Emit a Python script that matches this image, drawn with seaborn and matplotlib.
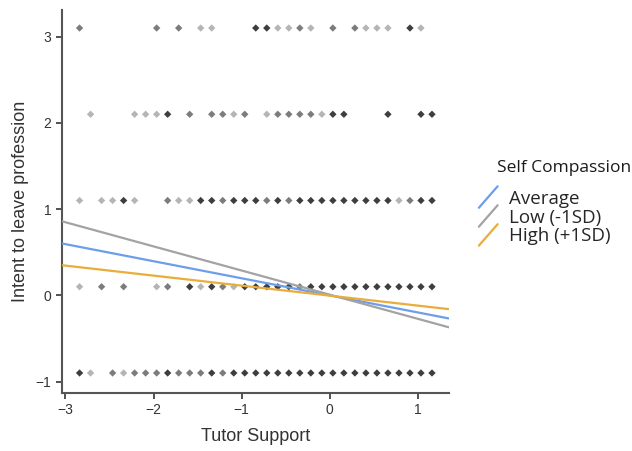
import numpy as np
import pandas as pd
import matplotlib
matplotlib.use("Agg")
import matplotlib.pyplot as plt
from matplotlib.lines import Line2D
import seaborn as sns

# Observed Tutor Support scores (centred) on the x grid
support_levels = [-2.84, -2.715, -2.59, -2.465, -2.34, -2.215, -2.09, -1.965, -1.84,
                  -1.715, -1.59, -1.465, -1.34, -1.215, -1.09, -0.965, -0.84, -0.715,
                  -0.59, -0.465, -0.34, -0.215, -0.09, 0.035, 0.16, 0.285, 0.41,
                  0.535, 0.66, 0.785, 0.91, 1.035, 1.16]

# Intent to leave levels (rows of points)
intent_levels = [3.1, 2.1, 1.1, 0.1, -0.9]

# Overlap density for each support level: 0 = none, 1 = single, 2 = few, 3 = many
overlap_31 = [2, 0, 0, 0, 0, 0, 0, 2, 0, 2, 0, 1, 1, 0, 0, 0, 3, 3, 1, 1, 2, 1, 0, 2, 0, 2, 1, 1, 1, 0, 3, 1, 0]
overlap_21 = [0, 1, 0, 0, 0, 1, 1, 1, 3, 0, 2, 0, 2, 2, 1, 2, 0, 1, 2, 2, 2, 2, 1, 3, 3, 0, 0, 0, 3, 0, 0, 3, 3]
overlap_11 = [1, 0, 1, 1, 3, 1, 0, 0, 2, 1, 1, 3, 3, 2, 3, 3, 3, 2, 3, 2, 3, 3, 3, 3, 3, 3, 3, 3, 3, 1, 2, 3, 3]
overlap_01 = [1, 0, 2, 0, 2, 0, 0, 1, 2, 0, 3, 1, 3, 2, 1, 3, 3, 3, 3, 3, 2, 3, 3, 3, 3, 3, 3, 3, 3, 3, 3, 3, 3]
overlap_m09 = [3, 1, 0, 2, 1, 2, 2, 2, 3, 2, 2, 2, 3, 2, 3, 3, 3, 3, 3, 3, 3, 3, 3, 3, 3, 3, 3, 3, 3, 3, 3, 3, 3]

# Simple slopes of the moderation model
moderator_labels = ["Average", "Low (-1SD)", "High (+1SD)"]
slopes = [-0.198, -0.280, -0.116]
intercepts = [0.0, 0.008, -0.003]
line_colors = ["#6d9eeb", "#a3a3a3", "#e9ad3c"]
x_range = [-3.04, 1.35]

shade_colors = {1: "#b5b5b5", 2: "#7c7c7c", 3: "#3e3e3e"}

sns.set_theme(style="ticks")
plt.rcParams["font.family"] = ["Liberation Sans", "DejaVu Sans"]
plt.rcParams["font.sans-serif"] = ["Liberation Sans", "DejaVu Sans"]

# Long tables for seaborn
rows = []
for y, dens in zip(intent_levels, [overlap_31, overlap_21, overlap_11, overlap_01, overlap_m09]):
    for x, d in zip(support_levels, dens):
        if d > 0:
            rows.append({"support": x, "intent": y, "density": d})
points = pd.DataFrame(rows)

line_rows = []
for lab, b, a in zip(moderator_labels, slopes, intercepts):
    for x in x_range:
        line_rows.append({"support": x, "intent": a + b * x, "group": lab})
lines = pd.DataFrame(line_rows)

fig = plt.figure(figsize=(6.32, 4.51), dpi=100)
ax = fig.add_axes([0.098, 0.129, 0.612, 0.849])

sns.scatterplot(data=points, x="support", y="intent", hue="density", palette=shade_colors,
                marker="D", s=14, linewidth=0, legend=False, ax=ax, zorder=2)
sns.lineplot(data=lines, x="support", y="intent", hue="group", hue_order=moderator_labels,
             palette=line_colors, linewidth=1.6, legend=False, ax=ax, zorder=3)

ax.set_xlim(x_range)
ax.set_ylim(-1.13, 3.31)
ax.set_xticks([-3, -2, -1, 0, 1])
ax.set_yticks([-1, 0, 1, 2, 3])
ax.set_xlabel("Tutor Support", fontsize=13, color="#333333", labelpad=8)
ax.set_ylabel("Intent to leave profession", fontsize=13, color="#333333", labelpad=5)
ax.tick_params(labelsize=10, colors="#333333", length=4, width=1.2)
for side in ["left", "bottom"]:
    ax.spines[side].set_color("#555555")
    ax.spines[side].set_linewidth(1.5)
sns.despine(ax=ax)


class DiagHandler:
    def legend_artist(self, legend, orig_handle, fontsize, handlebox):
        x0, y0 = handlebox.xdescent, handlebox.ydescent
        w, h = handlebox.width, handlebox.height
        ln = Line2D([x0, x0 + w], [y0 - 3, y0 + h + 3], color=orig_handle.get_color(),
                    linewidth=1.6, transform=handlebox.get_transform())
        handlebox.add_artist(ln)
        return ln


handles = [Line2D([], [], color=c) for c in line_colors]
fig.legend(handles, moderator_labels, loc="upper left",
           bbox_to_anchor=(0.731, 0.617), frameon=False,
           handlelength=1.0, handletextpad=0.6, labelspacing=0.05,
           handler_map={Line2D: DiagHandler()},
           prop={"family": "Open Sans", "size": 13.5})
fig.text(497 / 632, 1 - 168 / 451, "Self Compassion", family="Open Sans", fontsize=12.5,
         color="#1a1a1a", va="center", ha="left")

fig.savefig("out.png", dpi=100)
